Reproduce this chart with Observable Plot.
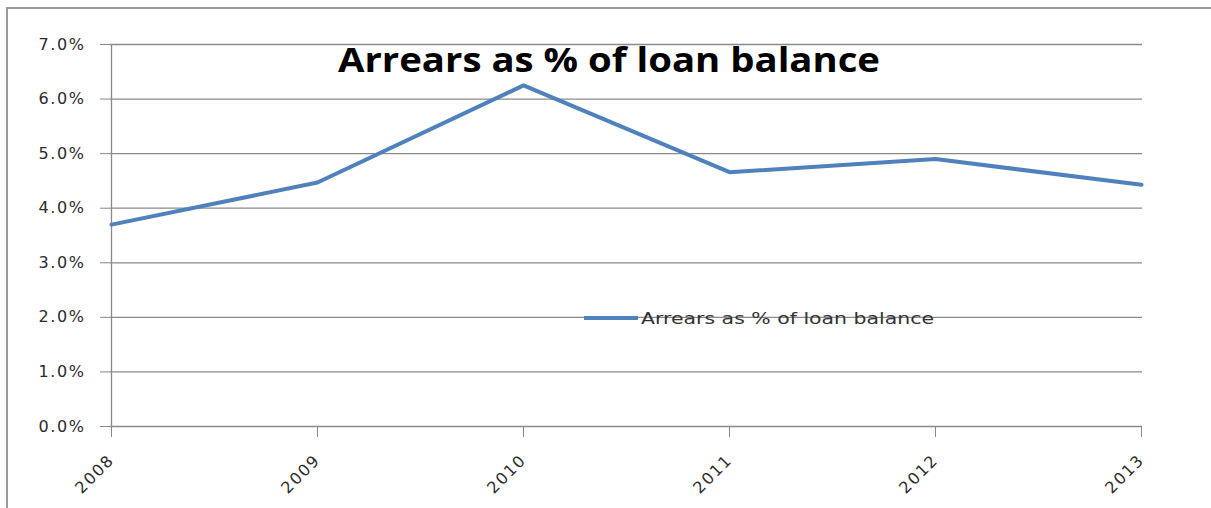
<!DOCTYPE html>
<html><head><meta charset="utf-8">
<script src="https://cdn.jsdelivr.net/npm/d3@7"></script>
<script src="https://cdn.jsdelivr.net/npm/@observablehq/plot@0.6"></script>
<style>
body{margin:0;background:#fff;}
#wrap{position:relative;width:1211px;height:508px;overflow:hidden;background:#fff;}
#frame{position:absolute;left:6px;top:7px;width:1400px;height:700px;border:2px solid #9a9a9a;box-sizing:border-box;}
#chart{position:absolute;left:0;top:0;}
#chart svg text{font-size:16px !important;letter-spacing:1.6px;fill:#2b2b2b;}
#overlay{position:absolute;left:0;top:0;pointer-events:none;}
</style></head>
<body>
<div id="wrap"><div id="frame"></div><div id="chart"></div>
<svg id="overlay" width="1211" height="508"></svg></div>
<script>
const years = [2008, 2009, 2010, 2011, 2012, 2013];
const arrearsPct = [3.70, 4.47, 6.25, 4.66, 4.90, 4.43];
const yTicks = [0, 1, 2, 3, 4, 5, 6, 7];
const titleText = "Arrears as % of loan balance";
const seriesName = "Arrears as % of loan balance";

const data = years.map((yr, i) => ({year: yr, value: arrearsPct[i]}));
const lineColor = "#4f81bd";
const gridColor = "#8a8a8a";

const chart = Plot.plot({
  width: 1211, height: 508,
  marginLeft: 110, marginRight: 69, marginTop: 44, marginBottom: 82,
  style: {fontFamily: "'DejaVu Sans', sans-serif", fontSize: "16px", color: "#333", background: "transparent"},
  x: {type: "point", domain: years, padding: 0},
  y: {domain: [0, 7]},
  marks: [
    Plot.ruleY(yTicks, {stroke: gridColor, strokeWidth: 1.3}),
    Plot.ruleX([years[0]], {stroke: gridColor, strokeWidth: 1.3}),
    Plot.axisY({ticks: yTicks, tickFormat: d => d.toFixed(1) + "%", tickSize: 10, tickPadding: 15, stroke: gridColor, fill: "#333", fontSize: 16, label: null}),
    Plot.axisX({ticks: years, tickFormat: d => String(d), tickSize: 11, tickRotate: -45, tickPadding: 20, stroke: gridColor, fill: "#333", fontSize: 16, label: null}),
    Plot.line(data, {x: "year", y: "value", stroke: lineColor, strokeWidth: 4, strokeLinejoin: "miter"})
  ]
});
document.getElementById("chart").appendChild(chart);

const ov = d3.select("#overlay");
ov.append("text").attr("x", 609).attr("y", 72).attr("text-anchor", "middle")
  .attr("font-family", "'Open Sans', sans-serif").attr("font-weight", "bold").attr("font-size", 34)
  .attr("fill", "#000").attr("textLength", 542).attr("lengthAdjust", "spacingAndGlyphs").text(titleText);
ov.append("line").attr("x1", 584).attr("x2", 638).attr("y1", 318).attr("y2", 318)
  .attr("stroke", lineColor).attr("stroke-width", 4);
ov.append("text").attr("x", 641).attr("y", 324)
  .attr("font-family", "'DejaVu Sans', sans-serif").attr("font-size", 15)
  .attr("fill", "#333").attr("textLength", 293).attr("lengthAdjust", "spacingAndGlyphs").text(seriesName);
</script>
</body></html>
